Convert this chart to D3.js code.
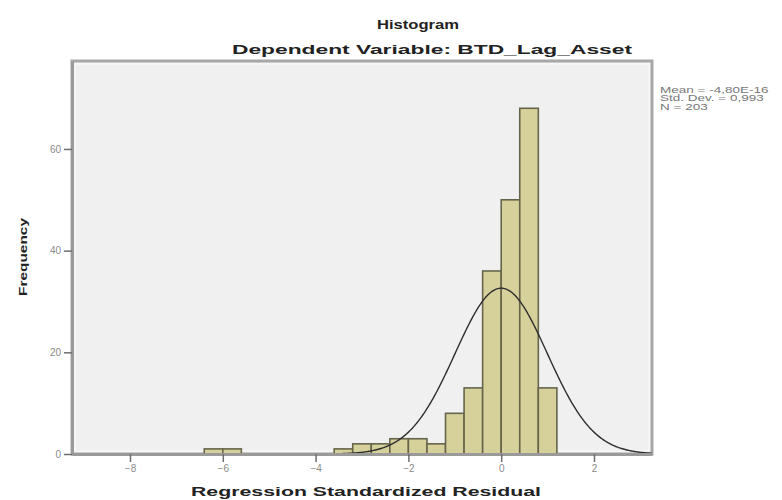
<!DOCTYPE html>
<html lang="en">
<head>
    <meta charset="UTF-8">
    <title>Histogram</title>
    <script src="https://d3js.org/d3.v7.min.js"></script>
    <style>
        body { margin: 0; background: #fff; font-family: Arial, "Liberation Sans", sans-serif; }
        svg { display: block; }
    </style>
</head>
<body>
    <svg width="782" height="500"></svg>
    <script>
        // histogram bins (left edge) and counts
        const binStarts = [-6.4, -6.0, -3.6, -3.2, -2.8, -2.4, -2.0, -1.6, -1.2, -0.8, -0.4, 0.0, 0.4, 0.8];
        const counts = [1, 1, 1, 2, 2, 3, 3, 2, 8, 13, 36, 50, 68, 13];
        const binWidth = 0.4;
        const xTicks = [-8, -6, -4, -2, 0, 2];
        const yTicks = [0, 20, 40, 60];
        const stats = ["Mean = -4,80E-16", "Std. Dev. = 0,993", "N = 203"];
        const mean = -4.8e-16, sd = 0.993, n = 203;

        const svg = d3.select("svg");
        const mLeft = 72, mRight = 652, mTop = 61, mBottom = 454;

        const x = d3.scaleLinear().domain([-9.25, 3.25]).range([mLeft, mRight]);
        const y = d3.scaleLinear().domain([0, 77.3]).range([mBottom, mTop]);

        // plot background
        svg.append("rect")
            .attr("x", mLeft).attr("y", mTop)
            .attr("width", mRight - mLeft).attr("height", mBottom - mTop)
            .attr("fill", "#eff0ef")
            .attr("stroke", "#a8a8a8").attr("stroke-width", 3);
        svg.append("rect")
            .attr("x", mLeft + 3).attr("y", mTop + 3)
            .attr("width", mRight - mLeft - 6).attr("height", mBottom - mTop - 6)
            .attr("fill", "none")
            .attr("stroke", "#f8f8f8").attr("stroke-width", 1.5);

        const bins = binStarts.map((s, i) => ({ x0: s, x1: s + binWidth, n: counts[i] }));

        svg.selectAll("rect.bar").data(bins).enter().append("rect")
            .attr("class", "bar")
            .attr("x", d => x(d.x0))
            .attr("y", d => y(d.n))
            .attr("width", d => x(d.x1) - x(d.x0))
            .attr("height", d => y(0) - y(d.n))
            .attr("fill", "#d6d19b")
            .attr("stroke", "#66654b")
            .attr("stroke-width", 1.6);

        // fitted normal curve
        const pts = d3.range(-9.25, 3.26, 0.02).map(v => [v,
            n * binWidth / (sd * Math.sqrt(2 * Math.PI)) * Math.exp(-0.5 * Math.pow((v - mean) / sd, 2))]);
        svg.append("path")
            .datum(pts)
            .attr("d", d3.line().x(d => x(d[0])).y(d => y(d[1])))
            .attr("fill", "none")
            .attr("stroke", "#2e2e2e")
            .attr("stroke-width", 1.4);

        // axes
        const xAxis = svg.append("g").attr("transform", `translate(0,${mBottom})`)
            .call(d3.axisBottom(x).tickValues(xTicks).tickSizeInner(8).tickSizeOuter(0).tickPadding(3));
        const yAxis = svg.append("g").attr("transform", `translate(${mLeft},0)`)
            .call(d3.axisLeft(y).tickValues(yTicks).tickSizeInner(8).tickSizeOuter(0).tickPadding(3));
        [xAxis, yAxis].forEach(g => {
            g.select(".domain").attr("stroke", "#9a9a9a").attr("stroke-width", 3);
            g.selectAll(".tick line").attr("stroke", "#6e6e6e").attr("stroke-width", 1.5);
            g.selectAll(".tick text").attr("fill", "#8a8a8a")
                .style("font-size", "10px").style("font-family", "Arial, sans-serif");
        });

        // titles
        svg.append("text").attr("x", 418).attr("y", 29)
            .attr("text-anchor", "middle")
            .style("font-size", "13px").style("font-weight", "bold").attr("fill", "#222")
            .attr("textLength", 82).attr("lengthAdjust", "spacingAndGlyphs")
            .text("Histogram");
        svg.append("text").attr("x", 432).attr("y", 54)
            .attr("text-anchor", "middle")
            .style("font-size", "13px").style("font-weight", "bold").attr("fill", "#222")
            .attr("textLength", 400).attr("lengthAdjust", "spacingAndGlyphs")
            .text("Dependent Variable: BTD_Lag_Asset");
        svg.append("text").attr("x", 366).attr("y", 496)
            .attr("text-anchor", "middle")
            .style("font-size", "13px").style("font-weight", "bold").attr("fill", "#222")
            .attr("textLength", 350).attr("lengthAdjust", "spacingAndGlyphs")
            .text("Regression Standardized Residual");
        svg.append("text")
            .attr("transform", "translate(27,257) rotate(-90)")
            .attr("text-anchor", "middle")
            .style("font-size", "11px").style("font-weight", "bold").attr("fill", "#222")
            .attr("textLength", 78).attr("lengthAdjust", "spacingAndGlyphs")
            .text("Frequency");

        // stats box text (stretched horizontally like the source)
        const statG = svg.append("g").attr("transform", "translate(660,0) scale(1.5,1)");
        statG.selectAll("text.stat").data(stats).enter().append("text")
            .attr("class", "stat")
            .attr("x", 0)
            .attr("y", (d, i) => 93 + i * 8.5)
            .style("font-size", "9px").attr("fill", "#777")
            .text(d => d);
    </script>
</body>
</html>
